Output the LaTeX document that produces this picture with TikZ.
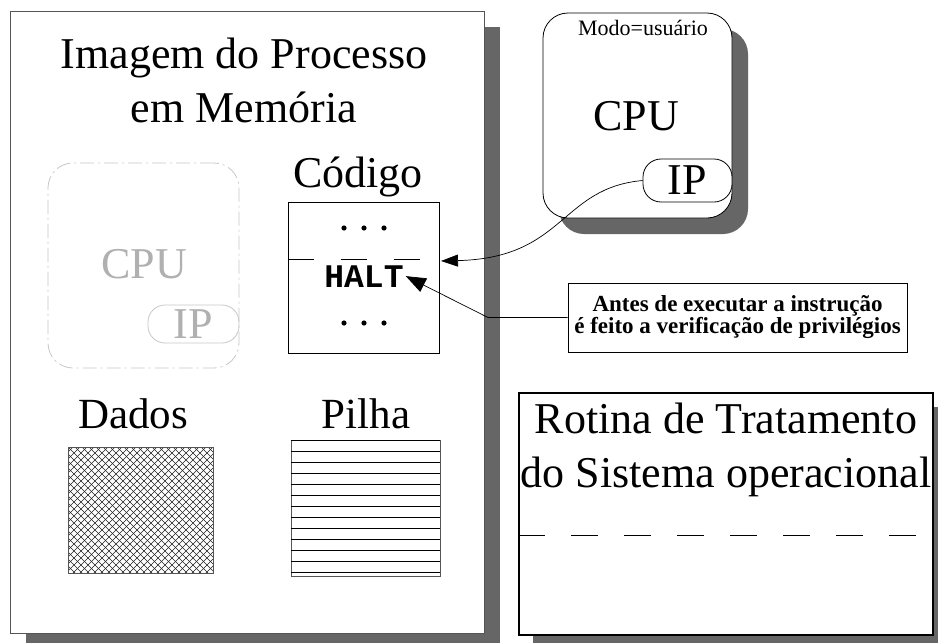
\documentclass[tikz,border=0pt]{standalone}
\usepackage{fontspec}
\setmainfont{Liberation Serif}
\setmonofont{Liberation Mono}
\usetikzlibrary{arrows.meta}
\definecolor{shadowgray}{HTML}{666666}
\definecolor{boxline}{HTML}{555555}
\definecolor{fadeline}{HTML}{C8C8C8}
\definecolor{fadetext}{HTML}{B0B0B0}
\definecolor{hatch}{HTML}{222222}
\begin{document}
\begin{tikzpicture}[x=1pt,y=-1pt,
  fs/.style={font=\fontsize{#1}{#1}\selectfont},
  txt/.style={anchor=base,inner sep=0pt},
  shadowbox/.style={fill=shadowgray},
  arr/.style={line width=0.7pt,-{Triangle[length=17pt,width=12pt]}},
  bigarr/.style={line width=0.7pt,-{Triangle[length=20pt,width=15pt]}},
]
\useasboundingbox (0,0) rectangle (938,643);
\fill[white] (0,0) rectangle (938,643);

% ---- main process image ----
\fill[shadowbox] (26,27) rectangle (500,650);
\node[draw=boxline, fill=white, line width=0.8pt, minimum width=474pt, minimum height=622pt,
      anchor=north west, inner sep=0pt] (mainbox) at (10,11) {};
\node[txt, fs=44] (title1) at (244,68) {Imagem do Processo};
\node[txt, fs=44] (title2) at (244,122) {em Memória};

% faded CPU
\node[draw=fadeline, line width=0.8pt, rounded corners=25pt, minimum width=191pt, minimum height=205pt,
      dash pattern=on 14pt off 4pt on 2pt off 4pt, inner sep=0pt] (oldcpu) at (143.5,265.5) {};
\node[txt, fs=44, text=fadetext] (oldcputxt) at (144,278) {CPU};
\node[draw=fadeline, line width=0.8pt, rounded corners=17pt, minimum width=91pt, minimum height=38pt,
      inner sep=0pt, fs=44, text=fadetext] (oldip) at (193.5,324) {IP};

% code
\node[txt, fs=44] (codelbl) at (358,187) {Código};
\node[draw, line width=0.8pt, minimum width=151pt, minimum height=151pt, inner sep=0pt] (codebox) at (363.5,277.5) {};
\foreach \cx in {344,364,384}{
  \fill (\cx,228) circle[radius=2.6pt];
  \fill (\cx,323) circle[radius=2.6pt];
}
\draw[line width=0.7pt, dash pattern=on 26pt off 27pt] (codebox.west |- 0,259) -- (421,259);
\node[txt, font=\fontsize{33}{33}\selectfont\ttfamily\bfseries, inner sep=2pt] (halt) at (364,287) {HALT};

% data
\node[txt, fs=43] (dadoslbl) at (133,428) {Dados};
\node[minimum width=145pt, minimum height=126pt, inner sep=0pt] (dados) at (140.5,510) {};
\begin{scope}
  \clip (68,447) rectangle (213,573);
  \foreach \i in {-133,-126,...,150}{
    \draw[hatch, line width=0.55pt] (68+\i,447) -- ++(130,130);
    \draw[hatch, line width=0.55pt] (213-\i,447) -- ++(-130,130);
  }
\end{scope}
\draw[boxline, line width=0.8pt] (68,447) rectangle (213,573);

% stack
\node[txt, fs=43] (pilhalbl) at (366,428) {Pilha};
\node[draw=boxline, line width=0.8pt, minimum width=149pt, minimum height=136pt, inner sep=0pt] (pilha) at (365.5,508) {};
\foreach \k in {0,...,12}{
  \draw[line width=0.8pt] (291,440+11*\k) -- (440,440+11*\k);
}

% ---- CPU in user mode ----
\fill[shadowbox, rounded corners=25pt] (559,29) rectangle (748,234);
\node[draw, fill=white, line width=0.8pt, rounded corners=25pt, minimum width=189pt, minimum height=205pt,
      inner sep=0pt] (cpu) at (637.5,115.5) {};
\node[txt, fs=22] (modo) at (643,35) {Modo=usuário};
\node[txt, fs=44] (cputxt) at (636,130) {CPU};
\node[draw, fill=white, line width=0.8pt, rounded corners=18pt, minimum width=89pt, minimum height=43pt,
      inner sep=0pt, fs=44] (ip) at (687.5,180.5) {IP};

% ---- OS routine ----
\fill[shadowbox] (533,407) rectangle (950,650);
\node[draw, fill=white, line width=1.6pt, minimum width=414pt, minimum height=242pt, inner sep=0pt] (rotina) at (726,514) {};
\node[txt, fs=44] (rot1) at (726,433) {Rotina de Tratamento};
\node[txt, fs=44] (rot2) at (726,487) {do Sistema operacional};
\draw[line width=0.7pt, dash pattern=on 27pt off 26pt] (rotina.west |- 0,535) -- (922,535);

% ---- note ----
\node[draw, fill=white, line width=0.8pt, minimum width=339pt, minimum height=69pt, inner sep=0pt,
      align=center, font=\fontsize{23}{22}\selectfont\bfseries] (note) at (737.5,317.5)
      {Antes de executar a instrução\\é feito a verificação de privilégios};

% ---- connectors ----
\coordinate (codein) at (441,261);
\draw[arr] (ip.west) .. controls (560,188) and (565,258) .. (codein);
\coordinate (bend) at (488,317.5);
\draw[bigarr] (note.west) -- (bend) -- (halt.east);
\end{tikzpicture}
\end{document}
